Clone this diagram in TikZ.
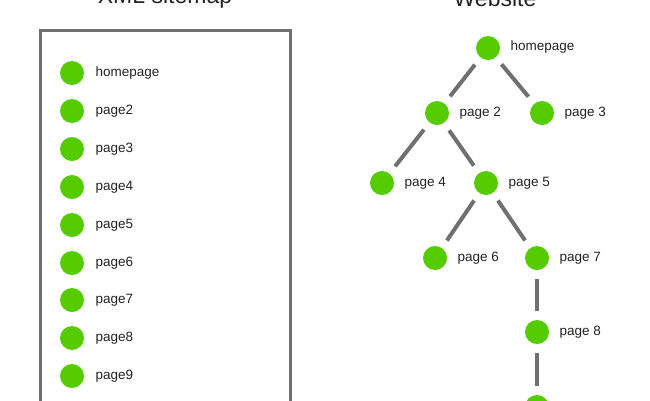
\documentclass[tikz,border=0pt]{standalone}
\usepackage{fontspec}
\setmainfont{Liberation Sans}
\begin{document}
\begin{tikzpicture}[x=1pt,y=-1pt,
  dot/.style={circle,fill={rgb,255:red,85;green,204;blue,0},minimum size=24pt,inner sep=0pt},
  lbl/.style={anchor=west,font=\fontsize{13.5}{15}\selectfont,text={rgb,255:red,34;green,34;blue,34}},
  edge/.style={draw={rgb,255:red,112;green,112;blue,112},line width=4pt,shorten <=9pt,shorten >=9pt}]
\useasboundingbox (0,0) rectangle (650,400);
\node[font=\fontsize{23}{26}\selectfont,text={rgb,255:red,34;green,34;blue,34}] (t1) at (165,-2) {XML sitemap};
\node[font=\fontsize{23}{26}\selectfont,text={rgb,255:red,34;green,34;blue,34}] (t2) at (495,-2) {Website};
\draw[draw={rgb,255:red,112;green,112;blue,112},line width=3pt] (40,420) -- (40,30) -- (290,30) -- (290,420);
\foreach \n/\y in {homepage/73,page2/111,page3/149,page4/187,page5/225,page6/263,page7/300,page8/338,page9/376}{
  \node[dot] (L\n) at (72,\y) {};
  \node[lbl] (T\n) at (92,\y) {\n};
}
\node[dot] (h) at (488,48) {}; \node[lbl] at (507,47) {homepage};
\node[dot] (p2) at (437,113) {}; \node[lbl] at (456,113) {page 2};
\node[dot] (p3) at (542,113) {}; \node[lbl] at (561,113) {page 3};
\node[dot] (p4) at (382,183) {}; \node[lbl] at (401,183) {page 4};
\node[dot] (p5) at (486,183) {}; \node[lbl] at (505,183) {page 5};
\node[dot] (p6) at (435,258) {}; \node[lbl] at (454,258) {page 6};
\node[dot] (p7) at (537,258) {}; \node[lbl] at (556,258) {page 7};
\node[dot] (p8) at (537,332) {}; \node[lbl] at (556,332) {page 8};
\node[dot] (p9) at (537,407) {};
\path[edge] (h)--(p2); \path[edge] (h)--(p3);
\path[edge] (p2)--(p4); \path[edge] (p2)--(p5);
\path[edge] (p5)--(p6); \path[edge] (p5)--(p7);
\path[edge] (p7)--(p8); \path[edge] (p8)--(p9);
\end{tikzpicture}
\end{document}
